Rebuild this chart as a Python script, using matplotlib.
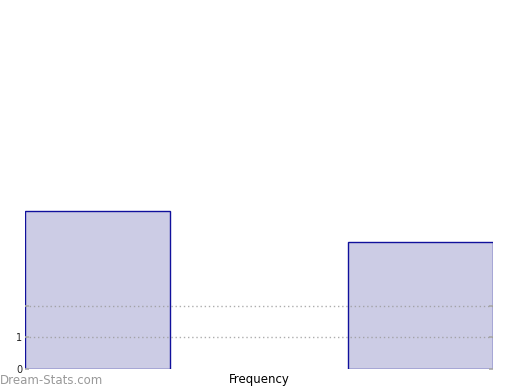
import matplotlib
matplotlib.use("Agg")
import matplotlib.pyplot as plt

# histogram bins (two visible bars) and their frequencies
bin_pos = [0, 1]
freqs = [5, 4]
ytick_vals = [0, 1, 2]
ytick_labels = ["0", "1", ""]

fig = plt.figure(figsize=(5.2, 3.9), dpi=100)
ax = fig.add_axes([25 / 520, 21 / 390, 468 / 520, 360 / 390])

ax.bar(bin_pos, freqs, width=0.45, color="#ccccE5", edgecolor="#10109c",
       linewidth=1.0, zorder=1)

ax.set_xlim(-0.225, 1.225)
ax.set_ylim(0, 360 / 31.7)

ax.set_yticks(ytick_vals)
ax.set_yticklabels(ytick_labels, fontsize=7, color="#222222")
ax.set_xticks([])
ax.tick_params(axis="y", direction="in", length=3, width=1.2, color="#aaaaaa",
               pad=2, right=True)
for y in ytick_vals[1:]:
    ax.axhline(y, color="#999999", linestyle=(0, (1, 2)), linewidth=1.0,
               alpha=0.8, zorder=2)

for s in ax.spines.values():
    s.set_visible(False)

ax.set_xlabel("Frequency", fontsize=8.5, labelpad=3)
fig.text(0, 6 / 390, "Dream-Stats.com", fontsize=8.5, color="#999999",
         fontweight="normal", ha="left", va="baseline",
         family="DejaVu Sans")

fig.savefig("out.png", dpi=100)
